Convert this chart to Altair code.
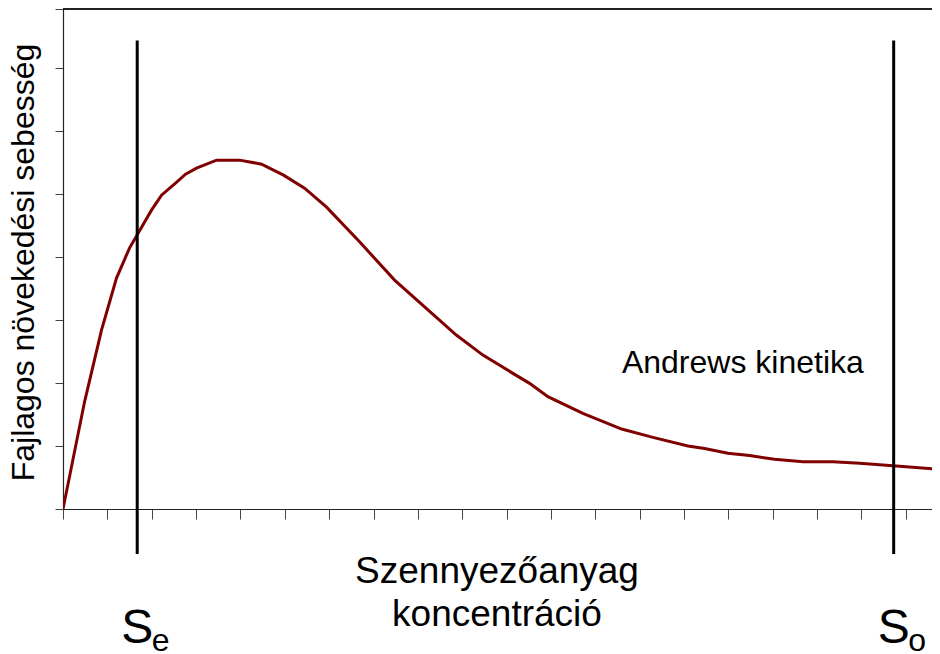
import altair as alt
import pandas as pd

# Curve: Andrews kinetics
conc = [0.0, 0.485, 0.868, 1.206, 1.499, 1.995, 2.221, 2.537, 2.762, 3.010, 3.461,
        3.980, 4.476, 4.972, 5.445, 5.941, 6.685, 7.475, 8.189, 8.866, 9.466,
        10.142, 10.519, 10.931, 11.720, 12.593, 13.299, 14.088, 14.465, 14.990,
        15.479, 16.043, 16.681, 17.357, 17.959, 18.710, 19.763]
rate = [0.0, 1.698, 2.841, 3.667, 4.143, 4.746, 4.984, 5.175, 5.317, 5.413, 5.540,
        5.540, 5.476, 5.302, 5.095, 4.794, 4.243, 3.635, 3.186, 2.762, 2.444,
        2.154, 1.995, 1.783, 1.519, 1.270, 1.138, 1.000, 0.960, 0.884,
        0.849, 0.789, 0.751, 0.751, 0.725, 0.687, 0.630]

# Vertical marker lines Se and So
marker_x = [1.673, 18.726]
marker_top = [7.44, 7.44]
marker_bottom = [-0.714, -0.714]
marker_main = ["S", "S"]
marker_sub = ["e", "o"]
main_y = [-2.127, -2.127]
sub_y = [-2.25, -2.25]

# Annotation
note_text = ["Andrews kinetika"]
note_x = [12.6]
note_y = [2.159]

x_ticks = list(range(0, 20))
y_ticks = [0, 1, 2, 3, 4, 5, 6, 7, 7.94]
X_MAX = 19.59
Y_MAX = 7.94

FONT = "Liberation Sans"

curve_df = pd.DataFrame({"c": conc, "r": rate})
mark_df = pd.DataFrame({"c": marker_x, "top": marker_top, "bot": marker_bottom,
                        "main": marker_main, "sub": marker_sub,
                        "my": main_y, "sy": sub_y})
note_df = pd.DataFrame({"c": note_x, "r": note_y, "t": note_text})

x_axis = alt.Axis(values=x_ticks, labels=False, ticks=True, tickSize=10,
                  tickColor="#444444", tickWidth=1, domainColor="#222222",
                  domainWidth=1.2, grid=False,
                  title=["Szennyezőanyag", "koncentráció"],
                  titleFont=FONT, titleFontSize=37, titleFontWeight="normal",
                  titleColor="black", titleLineHeight=43,
                  titleBaseline="alphabetic", titleAlign="center",
                  titleX=433.5, titleY=73)
y_axis = alt.Axis(values=y_ticks, labels=False, ticks=True, tickSize=8,
                  tickColor="#444444", tickWidth=1, domainColor="#222222",
                  domainWidth=1.2, grid=False,
                  title="Fajlagos növekedési sebesség",
                  titleFont=FONT, titleFontSize=32, titleFontWeight="normal",
                  titleColor="black", titleAngle=270,
                  titleBaseline="alphabetic", titleAlign="center",
                  titleX=-30, titleY=253)

xs = alt.Scale(domain=[0, X_MAX], nice=False, zero=False)
ys = alt.Scale(domain=[0, Y_MAX], nice=False, zero=False)


def X(field):
    return alt.X(field, type="quantitative", scale=xs, axis=x_axis)


def Y(field):
    return alt.Y(field, type="quantitative", scale=ys, axis=y_axis)


curve = alt.Chart(curve_df).mark_line(color="#800000", strokeWidth=3, clip=True).encode(
    x=X("c"), y=Y("r"))

top_border = alt.Chart(curve_df).mark_rule(color="#222222", strokeWidth=1.2).encode(
    y=alt.datum(Y_MAX, scale=ys))

markers = alt.Chart(mark_df).mark_rule(color="black", strokeWidth=3).encode(
    x=X("c"), y=Y("top"), y2="bot")

main_lbl = alt.Chart(mark_df).mark_text(font=FONT, fontSize=48, align="center",
                                        baseline="alphabetic", color="black").encode(
    x=X("c"), y=Y("my"), text="main")

sub_lbl = alt.Chart(mark_df).mark_text(font=FONT, fontSize=32, align="left",
                                       baseline="alphabetic", color="black", dx=14.5).encode(
    x=X("c"), y=Y("sy"), text="sub")

note = alt.Chart(note_df).mark_text(font=FONT, fontSize=32, align="left",
                                    baseline="alphabetic", color="black").encode(
    x=X("c"), y=Y("r"), text="t")

chart = alt.layer(curve, top_border, markers, main_lbl, sub_lbl, note).properties(
    width=869, height=500,
    autosize=alt.AutoSizeParams(type="none"),
    padding={"left": 55, "top": 1, "right": 0, "bottom": 145},
).configure_view(stroke=None)

chart.save("out.html", embed_options={"renderer": "svg", "actions": False})
